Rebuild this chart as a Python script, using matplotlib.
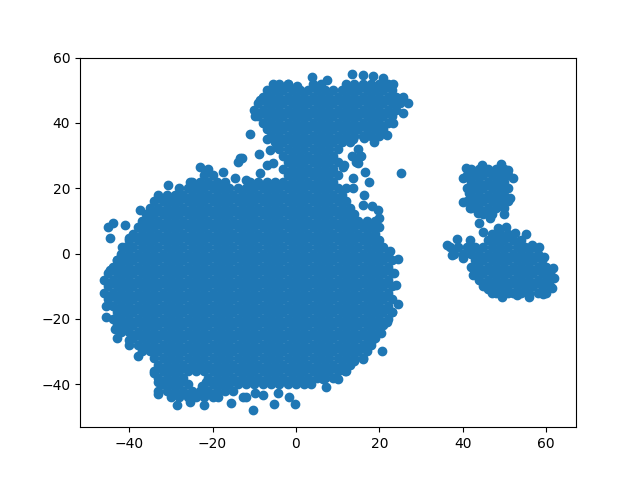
import matplotlib
matplotlib.use("Agg")
import matplotlib.pyplot as plt

# Points read by eye. Overlap hides individual interior points, so the solid
# interior is an estimate of coverage; outlying points are read from the picture.
main_rows = {
 24: [-22,-20,-2,0,2,4,6,8,10],
 22: [-25,-23,-21,-19,-17,-11,-9,-7,-5,-3,-1,1,3,5,7,9],
 20: [-28,-26,-24,-22,-20,-18,-16,-14,-12,-10,-8,-6,-4,-2,0,2,4,6,8,10,12],
 18: [-31,-29,-27,-25,-23,-21,-19,-17,-15,-13,-11,-9,-7,-5,-3,-1,1,3,5,7,9,11],
 16: [-34,-32,-30,-28,-26,-24,-22,-20,-18,-16,-14,-12,-10,-8,-6,-4,-2,0,2,4,6,8,10,12],
 14: [-35,-33,-31,-29,-27,-25,-23,-21,-19,-17,-15,-13,-11,-9,-7,-5,-3,-1,1,3,5,7,9,11,13],
 12: [-36,-34,-32,-30,-28,-26,-24,-22,-20,-18,-16,-14,-12,-10,-8,-6,-4,-2,0,2,4,6,8,10,12,14],
 10: [-37,-35,-33,-31,-29,-27,-25,-23,-21,-19,-17,-15,-13,-11,-9,-7,-5,-3,-1,1,3,5,7,9,11,13,15,17,19],
 8: [-38,-36,-34,-32,-30,-28,-26,-24,-22,-20,-18,-16,-14,-12,-10,-8,-6,-4,-2,0,2,4,6,8,10,12,14,16,18,20],
 6: [-39,-37,-35,-33,-31,-29,-27,-25,-23,-21,-19,-17,-15,-13,-11,-9,-7,-5,-3,-1,1,3,5,7,9,11,13,15,17,19],
 4: [-40,-38,-36,-34,-32,-30,-28,-26,-24,-22,-20,-18,-16,-14,-12,-10,-8,-6,-4,-2,0,2,4,6,8,10,12,14,16,18,20],
 2: [-41,-39,-37,-35,-33,-31,-29,-27,-25,-23,-21,-19,-17,-15,-13,-11,-9,-7,-5,-3,-1,1,3,5,7,9,11,13,15,17,19,21],
 0: [-42,-40,-38,-36,-34,-32,-30,-28,-26,-24,-22,-20,-18,-16,-14,-12,-10,-8,-6,-4,-2,0,2,4,6,8,10,12,14,16,18,20,22],
 -2: [-43,-41,-39,-37,-35,-33,-31,-29,-27,-25,-23,-21,-19,-17,-15,-13,-11,-9,-7,-5,-3,-1,1,3,5,7,9,11,13,15,17,19,21,23],
 -4: [-44,-42,-40,-38,-36,-34,-32,-30,-28,-26,-24,-22,-20,-18,-16,-14,-12,-10,-8,-6,-4,-2,0,2,4,6,8,10,12,14,16,18,20,22],
 -6: [-45,-43,-41,-39,-37,-35,-33,-31,-29,-27,-25,-23,-21,-19,-17,-15,-13,-11,-9,-7,-5,-3,-1,1,3,5,7,9,11,13,15,17,19,21,23],
 -8: [-44,-42,-40,-38,-36,-34,-32,-30,-28,-26,-24,-22,-20,-18,-16,-14,-12,-10,-8,-6,-4,-2,0,2,4,6,8,10,12,14,16,18,20,22],
 -10: [-45,-43,-41,-39,-37,-35,-33,-31,-29,-27,-25,-23,-21,-19,-17,-15,-13,-11,-9,-7,-5,-3,-1,1,3,5,7,9,11,13,15,17,19,21,23],
 -12: [-44,-42,-40,-38,-36,-34,-32,-30,-28,-26,-24,-22,-20,-18,-16,-14,-12,-10,-8,-6,-4,-2,0,2,4,6,8,10,12,14,16,18,20,22],
 -14: [-45,-43,-41,-39,-37,-35,-33,-31,-29,-27,-25,-23,-21,-19,-17,-15,-13,-11,-9,-7,-5,-3,-1,1,3,5,7,9,11,13,15,17,19,21,23],
 -16: [-44,-42,-40,-38,-36,-34,-32,-30,-28,-26,-24,-22,-20,-18,-16,-14,-12,-10,-8,-6,-4,-2,0,2,4,6,8,10,12,14,16,18,20,22],
 -18: [-43,-41,-39,-37,-35,-33,-31,-29,-27,-25,-23,-21,-19,-17,-15,-13,-11,-9,-7,-5,-3,-1,1,3,5,7,9,11,13,15,17,19,21,23],
 -20: [-44,-42,-40,-38,-36,-34,-32,-30,-28,-26,-24,-22,-20,-18,-16,-14,-12,-10,-8,-6,-4,-2,0,2,4,6,8,10,12,14,16,18,20,22],
 -22: [-43,-41,-39,-37,-35,-33,-31,-29,-27,-25,-23,-21,-19,-17,-15,-13,-11,-9,-7,-5,-3,-1,1,3,5,7,9,11,13,15,17,19,21],
 -24: [-42,-40,-38,-36,-34,-32,-30,-28,-26,-24,-22,-20,-18,-16,-14,-12,-10,-8,-6,-4,-2,0,2,4,6,8,10,12,14,16,18,20],
 -26: [-39,-37,-35,-33,-31,-29,-27,-25,-23,-21,-19,-17,-15,-13,-11,-9,-7,-5,-3,-1,1,3,5,7,9,11,13,15,17,19],
 -28: [-40,-38,-36,-34,-32,-30,-28,-26,-24,-22,-20,-18,-16,-14,-12,-10,-8,-6,-4,-2,0,2,4,6,8,10,12,14,16,18],
 -30: [-37,-35,-33,-31,-29,-27,-25,-23,-21,-19,-17,-15,-13,-11,-9,-7,-5,-3,-1,1,3,5,7,9,11,13,15,17],
 -32: [-34,-32,-30,-28,-26,-24,-22,-20,-18,-16,-14,-12,-10,-8,-6,-4,-2,0,2,4,6,8,10,12,14,16],
 -34: [-33,-31,-29,-27,-25,-23,-21,-19,-17,-15,-13,-11,-9,-7,-5,-3,-1,1,3,5,7,9,11,13],
 -36: [-34,-32,-30,-28,-26,-24,-22,-20,-18,-16,-14,-12,-10,-8,-6,-4,-2,0,2,4,6,8,10,12],
 -38: [-33,-31,-29,-27,-21,-19,-17,-15,-13,-11,-9,-7,-5,-3,-1,1,3,5,7,9],
 -40: [-32,-30,-28,-26,-20,-18,-16,-14,-12,-10,-8,-6,-4,-2,0,2],
 -42: [-33,-31,-29,-27,-25,-23,-21,-19,-17,-15],
 -44: [-30,-28,-26,-24,-22,-20],
}
main_edge_x = [-23,-21,-17.5,-14,-14.6,-30.7,-25.4,-33,-37.4,-45,-44,-41,-44.5,-40,-41.7,-43,-44.6,-46,-46,-45.6,-45.5,-43,-43.4,-40,-38,-34,-33,-33,-28.6,-25.4,-22,-18.7,-15.5,-12.7,-10.3,-5.3,-12,-8,-9.8,-4.3,-0.3,-1.7,3.6,7.2,6.5,10,11.8,14,16,17,20.6,18.2,20.3,21.8,24.4,23,24,23.5,24.4,22.5,19.7,20,19.7,18.2,16.3,16,17.5,13.7,13.7,25.2,16.5,11.5,-8.6,-12,-7,-5.5,-13.4,-13,-21.5,-22.5]
main_edge_y = [26.5,26,25,28,23,21,22,18,13.3,8,9.3,8.7,4.8,4.8,2,-2,-5,-8,-12,-16,-19.5,-26,-23,-26.5,-31.4,-36.6,-39.4,-43,-46.5,-45.5,-46.5,-44,-45.8,-44,-48,-46,-44,-43.4,-42.8,-42.8,-46,-44,-40,-41,-38.5,-38.5,-36,-33,-32.4,-29,-30,-26.5,-24.5,-21,-15.6,-18,-9.6,-6,-1.7,0.8,4,11,13.3,14.6,18,15,22,20,23,24.7,25,27,24.6,22.5,27,27.7,29.3,29.3,-39.5,-40.5]

top_rows = {
 52: [-4,-2,4,6,12,14,16,18,20,22],
 50: [-7,-5,-3,-1,1,3,5,7,9,11,13,15,17,19,21,23],
 48: [-8,-6,-4,-2,0,2,4,6,8,10,12,14,16,18,20,22,24],
 46: [-9,-7,-5,-3,-1,1,3,5,7,9,11,13,15,17,19,21,23,25],
 44: [-10,-8,-6,-4,-2,0,2,4,6,8,10,12,14,16,18,20,22,24],
 42: [-9,-7,-5,-3,-1,1,3,5,7,9,11,13,15,17,19,21,23],
 40: [-8,-6,-4,-2,0,2,4,6,8,10,12,14,16,18,20,22],
 38: [-7,-5,-3,-1,1,3,5,7,9,11,13,15,17,19,21],
 36: [-6,-4,-2,0,2,4,6,8,10,12,14,16,18,20],
 34: [-5,-3,-1,1,3,5,7,9,11,13],
 32: [-4,-2,0,2,4,6,8,10,15],
 30: [-3,-1,1,3,5,7,9,13.5,15.5],
 28: [-2,0,2,4,6,8,10,14.5],
 26: [-3,-1,1,3,5,7,9],
}
top_edge_x = [-11,-9.8,-8.6,-5.5,-2,0.2,3.8,7.4,13.4,16,18.5,21,23.3,25.7,26.8,25.7,23.3,21.8,18.7,16.3,13.7,15.3,14.9,-6.2,-8.9,-7,-4.6,11.3]
top_edge_y = [36.6,42,47,52,52,51.4,54,53,55,54.7,54.5,53.7,52,48,46,43,40,36.4,34,35.4,35,30,27.8,31.7,30.5,35,32.7,26.6]

right_upper_rows = {
 26: [42,44,46,48,50],
 24: [41,43,45,47,49,51],
 22: [42,44,46,48,50],
 20: [41,43,45,47,49,51],
 18: [42,44,46,48,50],
 16: [41,43,45,47,49,51],
 14: [42,44,46,48,50],
 12: [45,47],
}
right_upper_edge_x = [40.8,40,44.6,49.2,52,50.8,51.3,40,41.5,41.7,43.7,46.5,49.9,44,44.8]
right_upper_edge_y = [26.2,23,27,27.4,23,25.6,17,15.8,18.6,14,12.4,11,12,9.3,6.6]

right_lower_rows = {
 6: [47,49,51],
 4: [46,48,50,52,54],
 2: [37,39,41,43,45,47,49,51,53,55,57],
 0: [38,40,42,44,46,48,50,52,54,56,58],
 -2: [43,45,47,49,51,53,55,57,59],
 -4: [42,44,46,48,50,52,54,56,58,60],
 -6: [43,45,47,49,51,53,55,57,59,61],
 -8: [44,46,48,50,52,54,56,58,60],
 -10: [45,47,49,51,53,55,57,59,61],
 -12: [48,50,52,54,56,58,60],
}
right_lower_edge_x = [36.2,37.4,38.6,40,41.7,42.5,44.8,46,49.4,48.4,50.4,52.5,55.2,56.6,58.3,59.5,61.6,62,61.4,59.2,56,53,47,51]
right_lower_edge_y = [2.6,-0.4,4.4,-1.4,4.2,-6.5,-9,-11,-13.3,7.8,8,6.2,6,2.6,2,-1,-4.4,-7.6,-10.6,-12.4,-13.3,-12.7,-12,-12]

x_limits = (-51.8, 67.2)
y_limits = (-53.2, 60)

xs, ys = [], []
for rows in (main_rows, top_rows, right_upper_rows, right_lower_rows):
    for y_val, x_vals in rows.items():
        xs += x_vals
        ys += [y_val] * len(x_vals)
xs += main_edge_x + top_edge_x + right_upper_edge_x + right_lower_edge_x
ys += main_edge_y + top_edge_y + right_upper_edge_y + right_lower_edge_y

fig, ax = plt.subplots(figsize=(6.4, 4.8), dpi=100)
ax.scatter(xs, ys)
ax.set_xlim(*x_limits)
ax.set_ylim(*y_limits)
fig.savefig("out.png", dpi=100)
